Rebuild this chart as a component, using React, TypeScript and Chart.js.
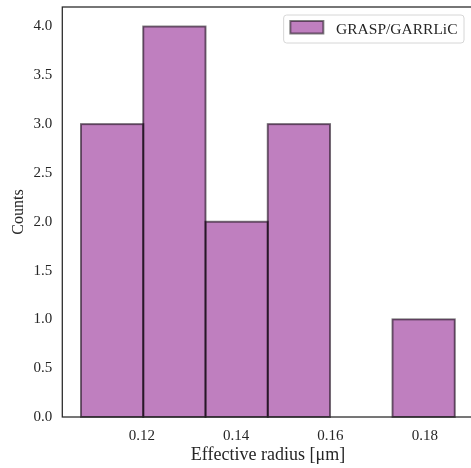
import React, { useEffect, useRef } from "react";
import { Chart, registerables } from "chart.js";

Chart.register(...registerables);

// ---- data ----
const binEdges = [0.1071, 0.1203, 0.1335, 0.1467, 0.1599, 0.1731, 0.1864];
const counts = [3, 4, 2, 3, 0, 1];
const xTicks = [0.12, 0.14, 0.16, 0.18];
const yTicks = [0, 0.5, 1, 1.5, 2, 2.5, 3, 3.5, 4];
const seriesLabel = "GRASP/GARRLiC";
const xTitle = "Effective radius [μm]";
const yTitle = "Counts";

// ---- style ----
const FILL = "rgba(128,0,128,0.5)";
const EDGE = "rgba(0,0,0,0.5)";
const TEXT = "#262626";
const SPINE = "#262626";
const FONT = "'Liberation Serif', 'Times New Roman', serif";

const W = 480;
const H = 468;

export default function App() {
  const ref = useRef<HTMLCanvasElement | null>(null);

  useEffect(() => {
    if (!ref.current) return;
    const points = counts
      .map((c, i) => ({ x: (binEdges[i] + binEdges[i + 1]) / 2, y: c }))
      .filter((p) => p.y > 0);
    const span = binEdges[binEdges.length - 1] - binEdges[0];
    const xMin = binEdges[0] - span * 0.05;
    const xMax = binEdges[binEdges.length - 1] + span * 0.05;
    const yMax = Math.max(...counts) * 1.05;

    const edgePlugin = {
      id: "edges",
      afterDatasetsDraw(chart: any) {
        const ctx = chart.ctx;
        const ca = chart.chartArea;
        ctx.save();
        const meta = chart.getDatasetMeta(0);
        ctx.strokeStyle = EDGE;
        ctx.lineWidth = 2;
        meta.data.forEach((el: any) => {
          const { x, y, base, width } = el.getProps(["x", "y", "base", "width"], true);
          ctx.strokeRect(x - width / 2, y, width, base - y);
        });
        // spines
        ctx.strokeStyle = SPINE;
        ctx.lineWidth = 1.25;
        ctx.strokeRect(ca.left, ca.top, ca.right - ca.left, ca.bottom - ca.top);
        ctx.restore();
      },
      afterDraw(chart: any) {
        const ctx = chart.ctx;
        const ca = chart.chartArea;
        ctx.save();
        ctx.font = `15.5px ${FONT}`;
        const tw = ctx.measureText(seriesLabel).width;
        const padL = 6.7, sw = 33, gap = 12.7, padR = 6.5, bh = 28;
        const bw = padL + sw + gap + tw + padR;
        const bx = ca.right - 9.7 - bw;
        const by = ca.top + 8;
        const r = 3;
        ctx.beginPath();
        ctx.moveTo(bx + r, by);
        ctx.lineTo(bx + bw - r, by);
        ctx.arcTo(bx + bw, by, bx + bw, by + r, r);
        ctx.lineTo(bx + bw, by + bh - r);
        ctx.arcTo(bx + bw, by + bh, bx + bw - r, by + bh, r);
        ctx.lineTo(bx + r, by + bh);
        ctx.arcTo(bx, by + bh, bx, by + bh - r, r);
        ctx.lineTo(bx, by + r);
        ctx.arcTo(bx, by, bx + r, by, r);
        ctx.closePath();
        ctx.fillStyle = "rgba(255,255,255,0.8)";
        ctx.fill();
        ctx.strokeStyle = "#d6d6d6";
        ctx.lineWidth = 1;
        ctx.stroke();
        // swatch
        const sx = bx + padL, sy = by + 6, sh = 12.5;
        ctx.fillStyle = FILL;
        ctx.fillRect(sx, sy, sw, sh);
        ctx.strokeStyle = EDGE;
        ctx.lineWidth = 2;
        ctx.strokeRect(sx, sy, sw, sh);
        ctx.fillStyle = TEXT;
        ctx.textBaseline = "middle";
        ctx.textAlign = "left";
        ctx.fillText(seriesLabel, sx + sw + gap, by + bh / 2 + 0.5);
        ctx.restore();
      },
    };

    const chart = new Chart(ref.current, {
      type: "bar",
      data: {
        datasets: [
          {
            label: seriesLabel,
            data: points as any,
            backgroundColor: FILL,
            borderWidth: 0,
            categoryPercentage: 1,
            barPercentage: 1,
          },
        ],
      },
      options: {
        responsive: false,
        animation: false,
        layout: { padding: { left: 0, top: 7, right: 6.3, bottom: 0 } },
        plugins: { legend: { display: false }, tooltip: { enabled: false } },
        scales: {
          x: {
            type: "linear",
            min: xMin,
            max: xMax,
            offset: false,
            grid: { display: false, drawTicks: false },
            border: { display: false },
            ticks: {
              font: { family: FONT, size: 15 },
              color: TEXT,
              padding: 10,
              maxRotation: 0,
              autoSkip: false,
              callback: (v: any) => Number(v).toFixed(2),
            },
            afterBuildTicks: (s: any) => {
              s.ticks = xTicks.map((v) => ({ value: v }));
            },
            afterFit: (s: any) => {
              s.height = 51;
              s.paddingLeft = 0;
              s.paddingRight = 0;
            },
            title: {
              display: true,
              text: xTitle,
              font: { family: FONT, size: 18 },
              color: TEXT,
              padding: { top: 0, bottom: 2 },
            },
          },
          y: {
            type: "linear",
            min: 0,
            max: yMax,
            grid: { display: false, drawTicks: false },
            border: { display: false },
            ticks: {
              font: { family: FONT, size: 15 },
              color: TEXT,
              padding: 10,
              callback: (v: any) => Number(v).toFixed(1),
            },
            afterBuildTicks: (s: any) => {
              s.ticks = yTicks.map((v) => ({ value: v }));
            },
            afterFit: (s: any) => {
              s.width = 62.3;
              s.paddingTop = 0;
              s.paddingBottom = 0;
            },
            title: {
              display: true,
              text: yTitle,
              font: { family: FONT, size: 16 },
              color: TEXT,
              padding: { top: 9, bottom: 0 },
            },
          },
        },
      },
      plugins: [edgePlugin],
    });
    return () => chart.destroy();
  }, []);

  return (
    <div
      style={{
        position: "fixed",
        left: 0,
        top: 0,
        width: 471,
        height: 468,
        overflow: "hidden",
        background: "#fff",
      }}
    >
      <canvas ref={ref} width={W} height={H} style={{ width: W, height: H, display: "block" }} />
    </div>
  );
}
